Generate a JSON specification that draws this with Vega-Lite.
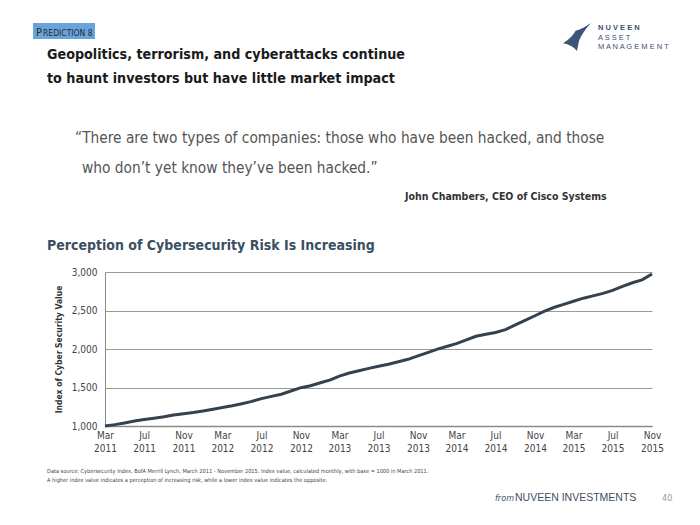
{
  "$schema": "https://vega.github.io/schema/vega-lite/v6.json",
  "width": 547,
  "height": 154,
  "autosize": {"type": "none"},
  "padding": {"left": 105, "top": 272, "right": 48, "bottom": 99},
  "background": "white",
  "config": {"view": {"stroke": null}, "font": "'DejaVu Sans Condensed', Roboto, sans-serif"},
  "data": {"values": [
    {"date": "2011-03-01", "value": 1000},
    {"date": "2011-04-01", "value": 1018},
    {"date": "2011-05-01", "value": 1040},
    {"date": "2011-06-01", "value": 1064},
    {"date": "2011-07-01", "value": 1085},
    {"date": "2011-08-01", "value": 1102},
    {"date": "2011-09-01", "value": 1120},
    {"date": "2011-10-01", "value": 1142},
    {"date": "2011-11-01", "value": 1160},
    {"date": "2011-12-01", "value": 1174},
    {"date": "2012-01-01", "value": 1196},
    {"date": "2012-02-01", "value": 1218},
    {"date": "2012-03-01", "value": 1240},
    {"date": "2012-04-01", "value": 1263},
    {"date": "2012-05-01", "value": 1290},
    {"date": "2012-06-01", "value": 1320},
    {"date": "2012-07-01", "value": 1356},
    {"date": "2012-08-01", "value": 1385},
    {"date": "2012-09-01", "value": 1412},
    {"date": "2012-10-01", "value": 1455},
    {"date": "2012-11-01", "value": 1498},
    {"date": "2012-12-01", "value": 1522},
    {"date": "2013-01-01", "value": 1562},
    {"date": "2013-02-01", "value": 1598},
    {"date": "2013-03-01", "value": 1648},
    {"date": "2013-04-01", "value": 1688},
    {"date": "2013-05-01", "value": 1718},
    {"date": "2013-06-01", "value": 1748},
    {"date": "2013-07-01", "value": 1776},
    {"date": "2013-08-01", "value": 1802},
    {"date": "2013-09-01", "value": 1834},
    {"date": "2013-10-01", "value": 1866},
    {"date": "2013-11-01", "value": 1910},
    {"date": "2013-12-01", "value": 1952},
    {"date": "2014-01-01", "value": 1998},
    {"date": "2014-02-01", "value": 2036},
    {"date": "2014-03-01", "value": 2070},
    {"date": "2014-04-01", "value": 2118},
    {"date": "2014-05-01", "value": 2165},
    {"date": "2014-06-01", "value": 2192},
    {"date": "2014-07-01", "value": 2215},
    {"date": "2014-08-01", "value": 2252},
    {"date": "2014-09-01", "value": 2312},
    {"date": "2014-10-01", "value": 2372},
    {"date": "2014-11-01", "value": 2432},
    {"date": "2014-12-01", "value": 2492},
    {"date": "2015-01-01", "value": 2542},
    {"date": "2015-02-01", "value": 2582},
    {"date": "2015-03-01", "value": 2620},
    {"date": "2015-04-01", "value": 2660},
    {"date": "2015-05-01", "value": 2690},
    {"date": "2015-06-01", "value": 2722},
    {"date": "2015-07-01", "value": 2762},
    {"date": "2015-08-01", "value": 2812},
    {"date": "2015-09-01", "value": 2860},
    {"date": "2015-10-01", "value": 2898},
    {"date": "2015-11-01", "value": 2975}
  ]},
  "layer": [
    {
      "mark": {"type": "line", "color": "#36414f", "strokeWidth": 3, "clip": false},
      "encoding": {
        "x": {
          "field": "date", "type": "temporal",
          "scale": {"type": "utc", "domain": [
            {"year": 2011, "month": 3, "date": 1, "utc": true},
            {"year": 2015, "month": 11, "date": 1, "utc": true}
          ]},
          "axis": {
            "title": null,
            "values": [
              {"year": 2011, "month": 3, "date": 1, "utc": true},
              {"year": 2011, "month": 7, "date": 1, "utc": true},
              {"year": 2011, "month": 11, "date": 1, "utc": true},
              {"year": 2012, "month": 3, "date": 1, "utc": true},
              {"year": 2012, "month": 7, "date": 1, "utc": true},
              {"year": 2012, "month": 11, "date": 1, "utc": true},
              {"year": 2013, "month": 3, "date": 1, "utc": true},
              {"year": 2013, "month": 7, "date": 1, "utc": true},
              {"year": 2013, "month": 11, "date": 1, "utc": true},
              {"year": 2014, "month": 3, "date": 1, "utc": true},
              {"year": 2014, "month": 7, "date": 1, "utc": true},
              {"year": 2014, "month": 11, "date": 1, "utc": true},
              {"year": 2015, "month": 3, "date": 1, "utc": true},
              {"year": 2015, "month": 7, "date": 1, "utc": true},
              {"year": 2015, "month": 11, "date": 1, "utc": true}
            ],
            "labelExpr": "[utcFormat(datum.value, '%b'), utcFormat(datum.value, '%Y')]",
            "labelFontSize": 10,
            "labelColor": "#444444",
            "labelLineHeight": 13,
            "labelPadding": 4,
            "labelOverlap": false,
            "labelFlush": false,
            "ticks": false,
            "grid": false,
            "domainColor": "#8a8a8a",
            "domainWidth": 1.5
          }
        },
        "y": {
          "field": "value", "type": "quantitative",
          "scale": {"domain": [1000, 3000], "nice": false},
          "axis": {
            "title": "Index of Cyber Security Value",
            "titleFontSize": 8.5,
            "titleFontWeight": "bold",
            "titleColor": "#333333",
            "titleX": -42,
            "titleY": 77,
            "titleAnchor": "middle",
            "values": [1000, 1500, 2000, 2500, 3000],
            "format": ",.0f",
            "labelFontSize": 10,
            "labelColor": "#444444",
            "labelPadding": 8,
            "ticks": false,
            "grid": true,
            "gridColor": "#9a9a9a",
            "gridWidth": 1,
            "domainColor": "#8a8a8a",
            "domainWidth": 1
          }
        }
      }
    },
    {
      "data": {"values": [{}]},
      "mark": {"type": "rect", "x": -72, "x2": -10, "y": -249, "y2": -233, "fill": "#6aa3d8"},
      "encoding": {}
    },
    {
      "data": {"values": [{}]},
      "mark": {"type": "text", "text": "P", "x": -69, "y": -236, "align": "left", "baseline": "alphabetic", "fontSize": 11, "color": "#1f2d3d"},
      "encoding": {}
    },
    {
      "data": {"values": [{}]},
      "mark": {"type": "text", "text": "REDICTION 8", "x": -62, "y": -236, "align": "left", "baseline": "alphabetic", "fontSize": 8.5, "color": "#1f2d3d"},
      "encoding": {}
    },
    {
      "data": {"values": [{}]},
      "mark": {"type": "text", "text": "Geopolitics, terrorism, and cyberattacks continue", "x": -58, "y": -213, "align": "left", "baseline": "alphabetic", "fontSize": 14.2, "fontWeight": "bold", "color": "#1a1a1a"},
      "encoding": {}
    },
    {
      "data": {"values": [{}]},
      "mark": {"type": "text", "text": "to haunt investors but have little market impact", "x": -58, "y": -189, "align": "left", "baseline": "alphabetic", "fontSize": 14.2, "fontWeight": "bold", "color": "#1a1a1a"},
      "encoding": {}
    },
    {
      "data": {"values": [{}]},
      "mark": {"type": "rule", "x": -72, "x2": 415, "y": -177, "stroke": "#4f6b88", "strokeWidth": 3},
      "encoding": {}
    },
    {
      "data": {"values": [{}]},
      "mark": {"type": "rule", "x": 171, "x2": 415, "y": -174, "stroke": "#e8a664", "strokeWidth": 3},
      "encoding": {}
    },
    {
      "data": {"values": [{}]},
      "mark": {"type": "point", "x": 472, "y": -235, "size": 784, "filled": true, "color": "#3b5676", "opacity": 1,
        "shape": "M -1 0.45 Q -0.35 0.05 -0.1 -0.45 Q 0.35 -0.55 1 -1 Q 0.4 -0.35 0.15 0.25 Q 0.05 0.7 0 1 Q -0.35 0.55 -1 0.45 Z"},
      "encoding": {}
    },
    {
      "data": {"values": [{}]},
      "mark": {"type": "text", "text": "N U V E E N", "x": 493, "y": -242, "align": "left", "baseline": "alphabetic", "fontSize": 7.5, "fontWeight": "bold", "color": "#3b5070", "font": "Liberation Sans"},
      "encoding": {}
    },
    {
      "data": {"values": [{}]},
      "mark": {"type": "text", "text": "A S S E T", "x": 493, "y": -232, "align": "left", "baseline": "alphabetic", "fontSize": 7.5, "color": "#3b5070", "font": "Liberation Sans"},
      "encoding": {}
    },
    {
      "data": {"values": [{}]},
      "mark": {"type": "text", "text": "M A N A G E M E N T", "x": 493, "y": -223, "align": "left", "baseline": "alphabetic", "fontSize": 7.5, "color": "#3b5070", "font": "Liberation Sans"},
      "encoding": {}
    },
    {
      "data": {"values": [{}]},
      "mark": {"type": "text", "text": "“There are two types of companies: those who have been hacked, and those", "x": -30, "y": -129, "align": "left", "baseline": "alphabetic", "fontSize": 15.3, "color": "#555555"},
      "encoding": {}
    },
    {
      "data": {"values": [{}]},
      "mark": {"type": "text", "text": "who don’t yet know they’ve been hacked.”", "x": -23, "y": -99, "align": "left", "baseline": "alphabetic", "fontSize": 15.3, "color": "#555555"},
      "encoding": {}
    },
    {
      "data": {"values": [{}]},
      "mark": {"type": "text", "text": "John Chambers, CEO of Cisco Systems", "x": 300, "y": -72, "align": "left", "baseline": "alphabetic", "fontSize": 10.5, "fontWeight": "bold", "color": "#333333"},
      "encoding": {}
    },
    {
      "data": {"values": [{}]},
      "mark": {"type": "text", "text": "Perception of Cybersecurity Risk Is Increasing", "x": -58, "y": -22, "align": "left", "baseline": "alphabetic", "fontSize": 14, "fontWeight": "bold", "color": "#3b4f63"},
      "encoding": {}
    },
    {
      "data": {"values": [{}]},
      "mark": {"type": "text", "text": "Data source: Cybersecurity Index, BofA Merrill Lynch, March 2011 - November 2015. Index value, calculated monthly, with base = 1000 in March 2011.", "x": -58, "y": 201, "align": "left", "baseline": "alphabetic", "fontSize": 5.6, "color": "#444444"},
      "encoding": {}
    },
    {
      "data": {"values": [{}]},
      "mark": {"type": "text", "text": "A higher index value indicates a perception of increasing risk, while a lower index value indicates the opposite.", "x": -58, "y": 210, "align": "left", "baseline": "alphabetic", "fontSize": 5.6, "color": "#444444"},
      "encoding": {}
    },
    {
      "data": {"values": [{}]},
      "mark": {"type": "text", "text": "from", "x": 390, "y": 229, "align": "left", "baseline": "alphabetic", "fontSize": 9, "fontStyle": "italic", "color": "#3d4f63"},
      "encoding": {}
    },
    {
      "data": {"values": [{}]},
      "mark": {"type": "text", "text": "NUVEEN INVESTMENTS", "x": 410, "y": 229, "align": "left", "baseline": "alphabetic", "fontSize": 10.5, "color": "#3d4f63", "font": "Liberation Sans"},
      "encoding": {}
    },
    {
      "data": {"values": [{}]},
      "mark": {"type": "text", "text": "40", "x": 557, "y": 229, "align": "left", "baseline": "alphabetic", "fontSize": 9, "color": "#999999"},
      "encoding": {}
    }
  ]
}
